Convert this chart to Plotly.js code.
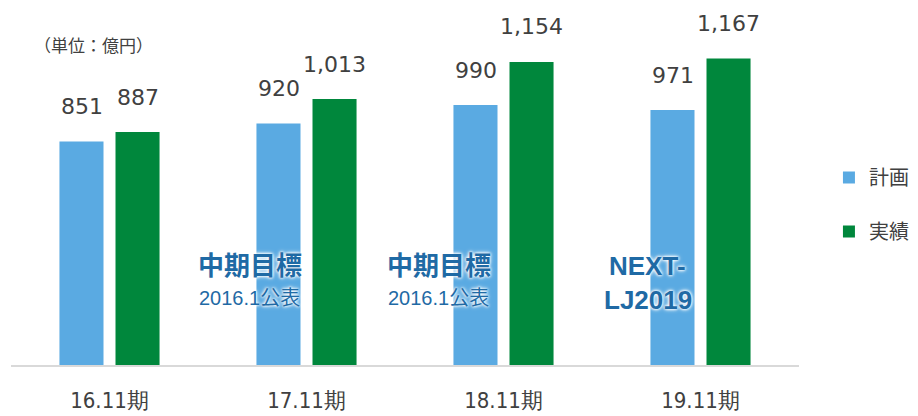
<!DOCTYPE html>
<html>
<head>
<meta charset="utf-8">
<script src="https://cdn.plot.ly/plotly-3.0.1.min.js"></script>
<style>
  html, body { margin: 0; padding: 0; background: #fff; }
  #chart { width: 918px; height: 416px; }
</style>
</head>
<body>
<div id="chart"></div>
<script>
var periods = ["16.11期", "17.11期", "18.11期", "19.11期"];
var planValues = [851, 920, 990, 971];
var actualValues = [887, 1013, 1154, 1167];
var seriesNames = ["計画", "実績"];

var textColor = "#404040";
var blueText = "#1f6aa5";
var glow = "0 0 3px #fff, 0 0 3px #fff, 0 0 5px #fff";

var data = [
  {type: "bar", name: seriesNames[0], x: periods, y: planValues,
   marker: {color: "#5aaae2"}, legendgroup: "a", hoverinfo: "y"},
  {type: "bar", name: seriesNames[1], x: periods, y: actualValues,
   marker: {color: "#00873c"}, legendgroup: "b", hoverinfo: "y"}
];

var annotations = [];
function fmt(v) { return v.toLocaleString("en-US"); }
periods.forEach(function (p, i) {
  annotations.push({x: p, y: planValues[i], xref: "x", yref: "y", xshift: -28, yshift: 35,
    text: fmt(planValues[i]), showarrow: false, yanchor: "middle",
    font: {family: "DejaVu Sans, Verdana, sans-serif", size: 22, color: textColor}});
  annotations.push({x: p, y: actualValues[i], xref: "x", yref: "y", xshift: 28, yshift: 35,
    text: fmt(actualValues[i]), showarrow: false, yanchor: "middle",
    font: {family: "DejaVu Sans, Verdana, sans-serif", size: 22, color: textColor}});
});

// unit note
annotations.push({x: 0, y: 0.877, xref: "paper", yref: "paper", xshift: 21, xanchor: "left",
  yanchor: "middle", showarrow: false, text: "（単位：億円）",
  font: {family: "Noto Sans CJK JP, sans-serif", size: 17, color: textColor}});

// plan notes on bars
var notes = [
  {cat: periods[1], dx: -57, top: "中期目標", bottom: "2016.1公表", big: false},
  {cat: periods[2], dx: -65, top: "中期目標", bottom: "2016.1公表", big: false},
  {cat: periods[3], dx: -53, top: "NEXT-", bottom: "LJ2019", big: true}
];
notes.forEach(function (n) {
  annotations.push({x: n.cat, y: (365 - 266) / 365, xref: "x", yref: "paper", xshift: n.dx,
    yanchor: "middle", showarrow: false, text: "<b>" + n.top + "</b>",
    font: {family: "Liberation Sans, Noto Sans CJK JP, sans-serif", size: 26, color: blueText, shadow: glow}});
  annotations.push({x: n.cat, y: (365 - (n.big ? 300 : 298)) / 365, xref: "x", yref: "paper", xshift: n.dx,
    yanchor: "middle", showarrow: false, text: n.big ? "<b>" + n.bottom + "</b>" : n.bottom,
    font: {family: "Liberation Sans, Noto Sans CJK JP, sans-serif", size: n.big ? 26 : 20,
           color: blueText, shadow: glow}});
});

var layout = {
  width: 918, height: 416,
  margin: {l: 11, r: 119, t: 0, b: 51},
  paper_bgcolor: "#fff", plot_bgcolor: "#fff",
  barmode: "group", bargap: 0.431, bargroupgap: 0.214,
  showlegend: true,
  legend: {x: 1.038, xanchor: "left", y: (365 - 158) / 365, yanchor: "top",
    traceorder: "grouped", tracegroupgap: 25,
    font: {family: "Noto Sans CJK JP, sans-serif", size: 20, color: textColor}},
  xaxis: {type: "category", showline: true, linecolor: "#d9d9d9", linewidth: 2,
    ticks: "", ticklabelstandoff: 15, showgrid: false, zeroline: false, fixedrange: true,
    tickfont: {family: "DejaVu Sans Condensed, Liberation Sans Narrow, sans-serif", size: 22, color: textColor}},
  yaxis: {range: [0, 1390], visible: false, showgrid: false, zeroline: false, fixedrange: true},
  annotations: annotations
};

Plotly.newPlot("chart", data, layout, {displayModeBar: false, staticPlot: true});
</script>
</body>
</html>
